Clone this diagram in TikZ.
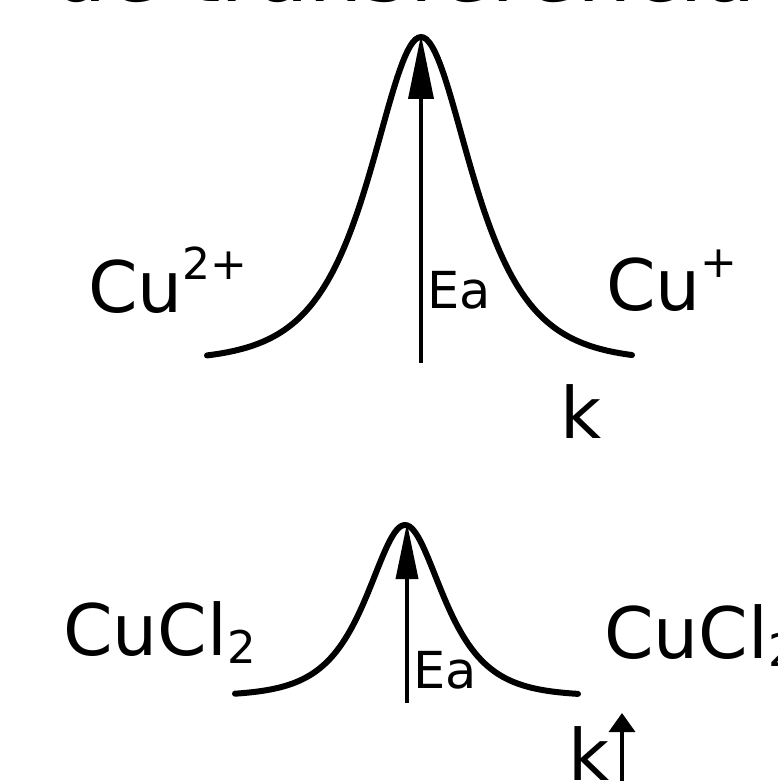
\documentclass[tikz,border=0pt]{standalone}
\usepackage{fontspec}
\setmainfont{DejaVu Sans}
\usetikzlibrary{arrows.meta}
\newcommand{\chemup}[1]{\raisebox{16.5pt}{\fontsize{22}{22}\selectfont #1}}
\newcommand{\chemdown}[1]{\raisebox{-4pt}{\fontsize{22.5}{22}\selectfont #1}}
\begin{document}
\begin{tikzpicture}[x = 0.5pt, y = -0.5pt,
    curve/.style = {line width = 3pt, line cap = round},
    ea arrow/.style = {line width = 1.8pt},
    species/.style = {anchor = base west, inner sep = 0pt, font = \fontsize{35.5}{40}\selectfont},
    ealabel/.style = {anchor = base west, inner sep = 0pt, font = \fontsize{25.5}{30}\selectfont}]
    \useasboundingbox (0,0) rectangle (777,781);
    \clip (0,0) rectangle (777,781);
    % cut title
    \node[anchor = base west, inner sep = 0pt, font = \fontsize{43}{48}\selectfont] (heading) at (52,2) {de transferencia};
    % upper barrier
    \draw[curve] plot[domain = -214:211, samples = 160] ({421+\x}, {361-324/cosh(\x/45)});
    \coordinate (footTop) at (421,363);
    \coordinate (peakTop) at (421,35);
    \draw[ea arrow, -{Triangle[length = 32pt, width = 12.5pt]}] (footTop) -- (peakTop);
    \node[species] (cuTwo) at (88,312) {Cu\chemup{2+}};
    \node[species] (cuOne) at (606,310) {Cu\chemup{+}};
    \node[ealabel] (eaTop) at (427,308) {Ea};
    \node[species] (kTop) at (560,438) {k};
    % lower barrier
    \draw[curve] plot[domain = -170:173, samples = 160] ({405+\x}, {696-171/cosh(\x/34)});
    \coordinate (footBot) at (407,703);
    \coordinate (peakBot) at (407,523);
    \draw[ea arrow, -{Triangle[length = 28pt, width = 11pt]}] (footBot) -- (peakBot);
    \node[species] (cuclLeft) at (63,655) {CuCl\chemdown{2}};
    \node[species] (cuclRight) at (604,658) {CuCl\chemdown{2}};
    \node[ealabel] (eaBot) at (413,688) {Ea};
    \node[species] (kBot) at (568,780) {k};
    \coordinate (riseFoot) at (622,800);
    \coordinate (riseTip) at (622,713);
    \draw[ea arrow, -{Triangle[length = 9.5pt, width = 13pt]}] (riseFoot) -- (riseTip);
\end{tikzpicture}
\end{document}
